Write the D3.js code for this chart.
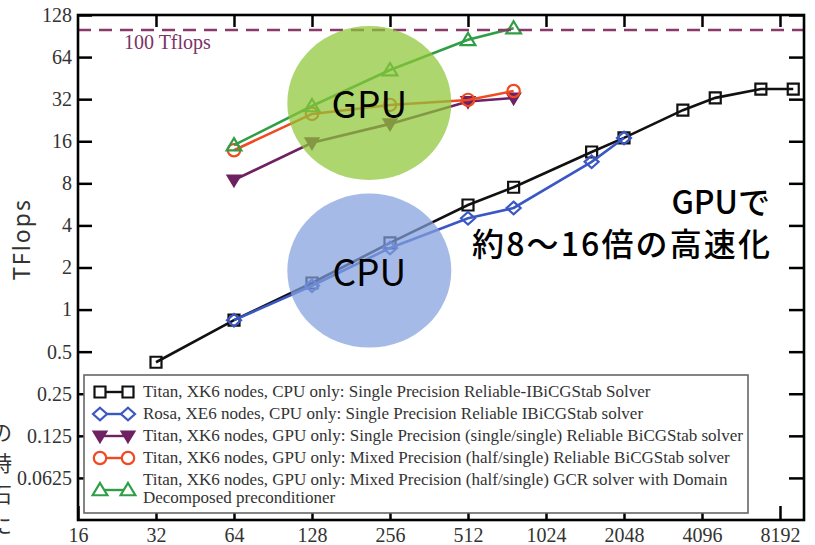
<!DOCTYPE html>
<html><head><meta charset="utf-8">
<script src="https://cdn.jsdelivr.net/npm/d3@7"></script>
<style>body{margin:0;background:#fff}svg{display:block}</style>
</head><body>
<svg id="c" width="815" height="545"></svg>
<script>
// ---- data ----
const xTicks = [16, 32, 64, 128, 256, 512, 1024, 2048, 4096, 8192];
const yTicks = [0.0625, 0.125, 0.25, 0.5, 1, 2, 4, 8, 16, 32, 64, 128];
const yTickLabels = ["0.0625", "0.125", "0.25", "0.5", "1", "2", "4", "8", "16", "32", "64", "128"];

const titanCpuNodes = [32, 64, 128, 256, 512, 768, 1536, 2048, 3456, 4608, 6912, 9216];
const titanCpuTflops = [0.42, 0.84, 1.55, 3.0, 5.6, 7.5, 13.4, 16.9, 26.7, 32.7, 37.8, 37.8];
const rosaCpuNodes = [64, 128, 256, 512, 768, 1536, 2048];
const rosaCpuTflops = [0.84, 1.48, 2.76, 4.5, 5.33, 11.4, 16.9];
const gpuNodes = [64, 128, 256, 512, 768];
const gpuSingleTflops = [8.45, 15.6, 21.3, 30.8, 32.6];
const gpuMixedTflops = [13.8, 25.1, 29.1, 31.6, 36.6];
const gpuGcrTflops = [15.0, 28.6, 51.7, 85, 103];
const peakLine = 100;

const legendLabels = [
  ["Titan, XK6 nodes, CPU only: Single Precision Reliable-IBiCGStab Solver"],
  ["Rosa, XE6 nodes, CPU only: Single Precision Reliable IBiCGStab solver"],
  ["Titan, XK6 nodes, GPU only: Single Precision (single/single) Reliable BiCGStab solver"],
  ["Titan, XK6 nodes, GPU only: Mixed Precision (half/single) Reliable BiCGStab solver"],
  ["Titan, XK6 nodes, GPU only: Mixed Precision (half/single) GCR solver with Domain", "Decomposed preconditioner"]
];
const gpuBubble = {n: 213, v: 30, label: "GPU"};
const cpuBubble = {n: 213, v: 1.9, label: "CPU"};
const noteLines = ["GPUで", "約8〜16倍の高速化"];
const sideChars = ["の", "時", "石", "に"];

// ---- layout ----
const m = {l: 78, r: 804, t: 15, b: 520};
const svg = d3.select("#c");
const x = d3.scaleLog().base(2).domain([16, 10140]).range([m.l, m.r]);
const y = d3.scaleLog().base(2).domain([0.03125, 128]).range([m.b, m.t]);

// custom marker shapes
const sqr = {draw(c, s){ c.rect(-s, -s, 2*s, 2*s); }};
const dia = {draw(c, s){ c.moveTo(0, -s*0.9); c.lineTo(s, 0); c.lineTo(0, s*0.9); c.lineTo(-s, 0); c.closePath(); }};
const triUp = {draw(c, s){ c.moveTo(0, -s); c.lineTo(s*1.05, s*0.75); c.lineTo(-s*1.05, s*0.75); c.closePath(); }};
const triDn = {draw(c, s){ c.moveTo(0, s); c.lineTo(s*1.05, -s*0.75); c.lineTo(-s*1.05, -s*0.75); c.closePath(); }};
const circ = {draw(c, s){ c.moveTo(s, 0); c.arc(0, 0, s, 0, 2*Math.PI); }};

const series = [
  {nodes: titanCpuNodes, vals: titanCpuTflops, color: "#111111", sym: sqr, size: 5.5, fill: "none"},
  {nodes: rosaCpuNodes, vals: rosaCpuTflops, color: "#3a57c4", sym: dia, size: 7, fill: "none"},
  {nodes: gpuNodes, vals: gpuSingleTflops, color: "#6e2262", sym: triDn, size: 6, fill: "#6e2262"},
  {nodes: gpuNodes, vals: gpuMixedTflops, color: "#f04a22", sym: circ, size: 6.2, fill: "none"},
  {nodes: gpuNodes, vals: gpuGcrTflops, color: "#2f9e45", sym: triUp, size: 7, fill: "none"}
];

const serif = "'Liberation Serif','Times New Roman',serif";

// ---- axes (inward ticks) ----
function styleAxis(g, fs){
  g.select(".domain").remove();
  g.selectAll(".tick line").attr("stroke", "#000").attr("stroke-width", 2.5);
  g.selectAll(".tick text").attr("font-family", serif).attr("font-size", fs).attr("fill", "#333");
}
styleAxis(svg.append("g").attr("transform", `translate(${m.l},0)`)
  .call(d3.axisLeft(y).tickValues(yTicks).tickSize(-14).tickPadding(6)
    .tickFormat(d => yTickLabels[yTicks.indexOf(d)])), 20);
styleAxis(svg.append("g").attr("transform", `translate(0,${m.b})`)
  .call(d3.axisBottom(x).tickValues(xTicks).tickSize(-14).tickPadding(8).tickFormat(d => String(d))), 20);
styleAxis(svg.append("g").attr("transform", `translate(0,${m.t})`)
  .call(d3.axisTop(x).tickValues(xTicks.slice(1)).tickSize(-12).tickFormat("")), 20);
styleAxis(svg.append("g").attr("transform", `translate(${m.r},0)`)
  .call(d3.axisRight(y).tickValues(yTicks).tickSize(-15).tickFormat("")), 20);

// ---- series ----
const line = d3.line().x(d => x(d[0])).y(d => y(d[1]));
series.forEach(s => {
  const pts = s.nodes.map((n, i) => [n, s.vals[i]]);
  const g = svg.append("g");
  g.append("path").attr("d", line(pts)).attr("fill", "none")
    .attr("stroke", s.color).attr("stroke-width", 2.6);
  g.selectAll("path.m").data(pts).join("path").attr("class", "m")
    .attr("transform", d => `translate(${x(d[0])},${y(d[1])})`)
    .attr("d", d3.symbol().type(s.sym).size(s.size))
    .attr("fill", s.fill === "none" ? "none" : s.fill)
    .attr("stroke", s.color).attr("stroke-width", 2.2);
});

// ---- 100 Tflops line ----
svg.append("line").attr("x1", m.l).attr("x2", m.r).attr("y1", y(peakLine)).attr("y2", y(peakLine))
  .attr("stroke", "#8a3a6a").attr("stroke-width", 2.5).attr("stroke-dasharray", "13,8");
svg.append("text").attr("x", 124).attr("y", y(peakLine) + 19)
  .attr("font-family", serif).attr("font-size", 20).attr("fill", "#7d3264").text("100 Tflops");

// ---- frame ----
svg.append("rect").attr("x", m.l).attr("y", m.t).attr("width", m.r - m.l).attr("height", m.b - m.t)
  .attr("fill", "none").attr("stroke", "#000").attr("stroke-width", 2.6);

// ---- highlight bubbles ----
const cjk = "'Noto Sans CJK JP','Noto Sans',sans-serif";
[[gpuBubble, "rgb(142,198,56)"], [cpuBubble, "rgb(130,160,222)"]].forEach(([b, col]) => {
  const cx = x(b.n), cy = y(b.v);
  svg.append("ellipse").attr("cx", cx).attr("cy", cy).attr("rx", 82).attr("ry", 77)
    .attr("fill", col).attr("fill-opacity", 0.72);
  svg.append("text").attr("x", cx).attr("y", cy + 15).attr("text-anchor", "middle")
    .attr("font-family", cjk).attr("font-size", 37).attr("fill", "#000").text(b.label);
});

// ---- annotation ----
noteLines.forEach((t, i) => {
  const tx = svg.append("text").attr("x", 770).attr("y", 214 + i*42).attr("text-anchor", "end")
    .attr("font-family", cjk).attr("font-weight", 500).attr("font-size", 32).attr("fill", "#000").text(t);
  if (i === 1) tx.attr("textLength", 298).attr("lengthAdjust", "spacing");
});

// ---- y label ----
svg.append("text").attr("transform", "translate(30,240) rotate(-90)").attr("text-anchor", "middle")
  .attr("font-family", "'Noto Sans','Open Sans',sans-serif").attr("font-size", 23).attr("fill", "#333")
  .attr("textLength", 80).attr("lengthAdjust", "spacing")
  .text("TFlops");

// ---- cut-off side text ----
sideChars.forEach((ch, i) => {
  svg.append("text").attr("x", 12).attr("y", 440 + i*31).attr("text-anchor", "end")
    .attr("font-family", cjk).attr("font-size", 21).attr("fill", "#333").text(ch);
});

// ---- legend ----
const lg = svg.append("g");
lg.append("rect").attr("x", 84).attr("y", 375).attr("width", 664).attr("height", 138)
  .attr("fill", "#fff").attr("stroke", "#666").attr("stroke-width", 1.6);
let ty = 397;
legendLabels.forEach((lines, i) => {
  const s = series[i];
  const cy = ty - 5 + (lines.length - 1) * 9 + (lines.length > 1 ? 1 : 0);
  lg.append("line").attr("x1", 100).attr("x2", 128).attr("y1", cy).attr("y2", cy)
    .attr("stroke", s.color).attr("stroke-width", 2.4);
  [100, 128].forEach(px => {
    lg.append("path").attr("transform", `translate(${px},${cy})`)
      .attr("d", d3.symbol().type(s.sym).size(s.size))
      .attr("fill", s.fill === "none" ? "#fff" : s.fill).attr("stroke", s.color).attr("stroke-width", 2.2);
  });
  lines.forEach((t, j) => {
    lg.append("text").attr("x", 143).attr("y", ty + j*18).attr("font-family", serif)
      .attr("font-size", 17).attr("fill", "#333").text(t);
  });
  ty += 22 + (lines.length - 1) * 18;
});
</script>
</body></html>
